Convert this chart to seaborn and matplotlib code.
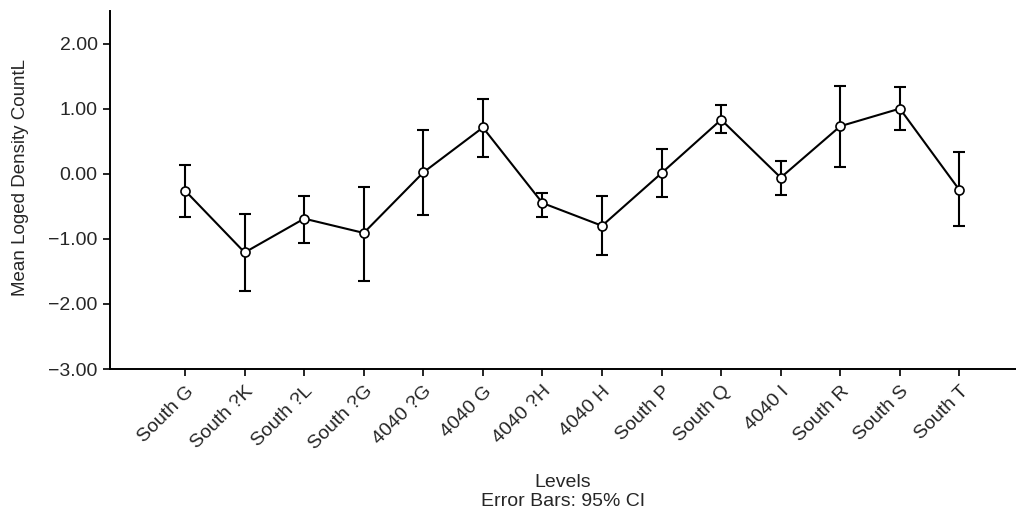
import numpy as np
import pandas as pd
import matplotlib
matplotlib.use("Agg")
import matplotlib.pyplot as plt
import seaborn as sns

# category levels and the plotted means with 95% CI bounds
levels = ['South G', 'South ?K', 'South ?L', 'South ?G', '4040 ?G', '4040 G', '4040 ?H',
          '4040 H', 'South P', 'South Q', '4040 I', 'South R', 'South S', 'South T']
means = [-0.26, -1.21, -0.69, -0.91, 0.02, 0.71, -0.45, -0.80, 0.01, 0.83, -0.06, 0.73, 1.00, -0.25]
ci_upper = [0.14, -0.62, -0.34, -0.20, 0.67, 1.15, -0.29, -0.34, 0.38, 1.05, 0.20, 1.35, 1.33, 0.34]
ci_lower = [-0.67, -1.80, -1.07, -1.65, -0.64, 0.25, -0.66, -1.25, -0.36, 0.63, -0.33, 0.11, 0.67, -0.81]
yticks = [-3.0, -2.0, -1.0, 0.0, 1.0, 2.0]

sns.set_style("ticks")
plt.rcParams['font.family'] = ['Liberation Sans', 'DejaVu Sans']

df = pd.DataFrame({'pos': np.arange(len(levels)), 'level': levels, 'mean': means,
                   'lo': ci_lower, 'hi': ci_upper})

fig = plt.figure(figsize=(10.16, 5.13), dpi=100)
ax = fig.add_axes([0.1083, 0.2807, 0.8917, 0.6979])

# error bars
yerr = np.vstack([df['mean'] - df['lo'], df['hi'] - df['mean']])
ax.errorbar(df['pos'], df['mean'], yerr=yerr, fmt='none', ecolor='black',
            elinewidth=1.5, capsize=4.5, capthick=1.5, zorder=2)

# mean line with open circles
sns.lineplot(data=df, x='pos', y='mean', ax=ax, color='black', linewidth=1.5,
             marker='o', markersize=6.5, markerfacecolor='white',
             markeredgecolor='black', markeredgewidth=1.2, zorder=3)

ax.set_xlim(-1.26, 13.95)
ax.set_ylim(-3.0, 2.5)
ax.set_yticks(yticks)
ax.set_yticklabels([f"{v:.2f}".replace('-', '\u2212') for v in yticks], fontsize=14)
ax.set_xticks(df['pos'])
ax.set_xticklabels(levels, fontsize=14, rotation=45, ha='right', rotation_mode='anchor')
ax.tick_params(axis='both', direction='out', length=5, width=1.2, color='black')
ax.tick_params(axis='x', pad=5)
ax.tick_params(axis='y', pad=4)

for s in ['top', 'right']:
    ax.spines[s].set_visible(False)
for s in ['left', 'bottom']:
    ax.spines[s].set_linewidth(1.4)
    ax.spines[s].set_color('black')

ax.set_xlabel('Levels', fontsize=14)
ax.xaxis.set_label_coords(0.5, -0.316)
ax.xaxis.label.set_va('center')
ax.set_ylabel('Mean Loged Density CountL', fontsize=13.5)
ax.yaxis.set_label_coords(-0.099, 0.535)
ax.yaxis.label.set_va('center')

fig.text(0.554, 1 - 502 / 513, 'Error Bars: 95% CI', fontsize=14,
         ha='center', va='center')

fig.savefig('out.png', dpi=100, facecolor='white')
